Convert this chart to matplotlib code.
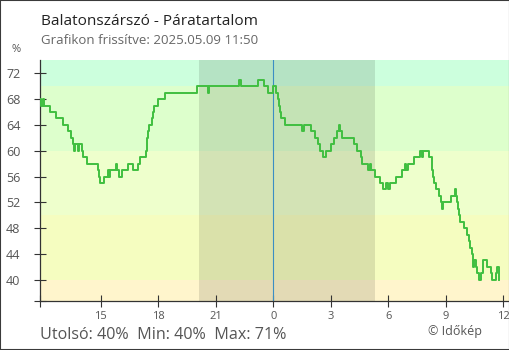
import matplotlib.pyplot as plt
from matplotlib.patches import Rectangle

# Relative humidity (%), hours relative to midnight of 2025-05-09, step changes
hours = [-12.17, -12.10, -12.02, -11.95, -11.65, -11.34, -10.95, -10.69, -10.55, -10.45,
         -10.38, -10.33, -10.20, -10.15, -10.00, -9.94, -9.70, -9.16, -9.09, -9.04,
         -8.82, -8.60, -8.55, -8.50, -8.22, -8.17, -8.03, -7.88, -7.60, -7.30,
         -7.04, -6.95, -6.65, -6.60, -6.57, -6.51, -6.46, -6.34, -6.27, -6.20,
         -6.00, -5.62, -3.96, -3.42, -3.35, -1.77, -1.68, -0.81, -0.49, -0.27,
         0.00, 0.14, 0.26, 0.31, 0.35, 0.43, 0.64, 1.51, 1.62, 1.97,
         2.18, 2.35, 2.43, 2.61, 2.73, 3.01, 3.18, 3.31, 3.44, 3.51,
         3.60, 4.21, 4.35, 4.57, 4.64, 4.92, 5.04, 5.10, 5.30, 5.57,
         5.74, 5.91, 6.00, 6.09, 6.40, 6.73, 6.90, 6.95, 7.04, 7.36,
         7.65, 7.74, 7.82, 8.14, 8.26, 8.30, 8.35, 8.40, 8.49, 8.66,
         8.73, 8.80, 8.87, 9.25, 9.48, 9.53, 9.60, 9.65, 9.70, 9.74,
         9.96, 10.09, 10.21, 10.26, 10.35, 10.43, 10.47, 10.57, 10.64, 10.75,
         10.83, 10.96, 11.13, 11.34, 11.39, 11.60, 11.65, 11.79]
humidity = [68, 67, 68, 67, 66, 65, 64, 63, 62, 61,
            60, 61, 60, 61, 60, 59, 58, 57, 56, 55,
            56, 57, 56, 57, 58, 57, 56, 57, 58, 57,
            58, 59, 60, 61, 62, 63, 64, 65, 66, 67,
            68, 69, 70, 69, 70, 71, 70, 71, 70, 69,
            70, 69, 68, 67, 66, 65, 64, 63, 64, 63,
            62, 61, 60, 59, 60, 61, 62, 63, 64, 63,
            62, 61, 60, 59, 58, 57, 58, 57, 56, 55,
            54, 55, 54, 55, 56, 57, 58, 57, 58, 59,
            60, 59, 60, 59, 58, 57, 56, 55, 54, 53,
            52, 51, 52, 53, 54, 53, 52, 51, 50, 49,
            48, 47, 46, 45, 44, 42, 43, 42, 41, 40,
            41, 43, 42, 41, 40, 41, 42, 40]

tick_hours = [-9, -6, -3, 0, 3, 6, 9, 12]
tick_labels = ['15', '18', '21', '0', '3', '6', '9', '12']
y_ticks = list(range(40, 73, 4))

# humidity bands, bottom to top
band_edges = [30, 40, 50, 60, 70, 80]
band_colors = ['#fff5cc', '#f5fdc0', '#eeffcc', '#ddffcc', '#ccffdd']

sunset, sunrise = -3.88, 5.31
x_range = (-12.15, 12.3)
y_range = (36.8, 74.05)

plt.rcParams['font.family'] = ['Open Sans', 'DejaVu Sans']

fig = plt.figure(figsize=(5.1, 3.5), dpi=100)
ax = fig.add_axes([0.079, 0.1414, 0.919, 0.6872])

for lo, hi, c in zip(band_edges[:-1], band_edges[1:], band_colors):
    ax.axhspan(lo, hi, color=c, lw=0, zorder=0)

# night
ax.axvspan(sunset, sunrise, color='black', alpha=0.11, lw=0, zorder=1)
ax.axvline(0, color='#3b8ec4', lw=0.8, zorder=2)

ax.plot(hours, humidity, drawstyle='steps-post', color='#40bf40', lw=1.4, zorder=3)

ax.set_xlim(*x_range)
ax.set_ylim(*y_range)
ax.set_xticks(tick_hours)
ax.set_xticklabels(tick_labels)
ax.set_yticks(y_ticks)
ax.set_xticks([x_range[0]], minor=True)
ax.set_yticks([y_range[0]], minor=True)

for side in ['top', 'right']:
    ax.spines[side].set_visible(False)
for side in ['left', 'bottom']:
    ax.spines[side].set_color('#333333')
    ax.spines[side].set_linewidth(0.9)

ax.tick_params(which='both', direction='inout', length=8.6, width=0.8, color='#333333')
ax.tick_params(axis='y', labelsize=9, labelcolor='#555555', pad=10)
ax.tick_params(axis='x', labelsize=8, labelcolor='#555555', pad=3)

fig.text(41 / 510, 1 - 25 / 350, 'Balatonszárszó - Páratartalom',
         fontsize=11.1, color='#222222', va='baseline')
fig.text(41 / 510, 1 - 44.3 / 350, 'Grafikon frissítve: 2025.05.09 11:50',
         fontsize=9.5, color='#666666', va='baseline')
fig.text(16.5 / 510, 1 - 50 / 350, '%', fontsize=8, color='#555555',
         ha='center', va='center')

summary = f'Utolsó: {humidity[-1]}%  Min: {min(humidity)}%  Max: {max(humidity)}%'
fig.text(40 / 510, 1 - 339 / 350, summary, fontsize=11.6, color='#555555', va='baseline')
fig.text(482 / 510, 1 - 335 / 350, '© Időkép', fontsize=9, color='#555555',
         ha='right', va='baseline')

fig.patches.append(Rectangle((0, 0), 1, 1, transform=fig.transFigure, fill=False,
                             ec='#3a3a3a', lw=1.5))

fig.savefig('out.png', dpi=100)
